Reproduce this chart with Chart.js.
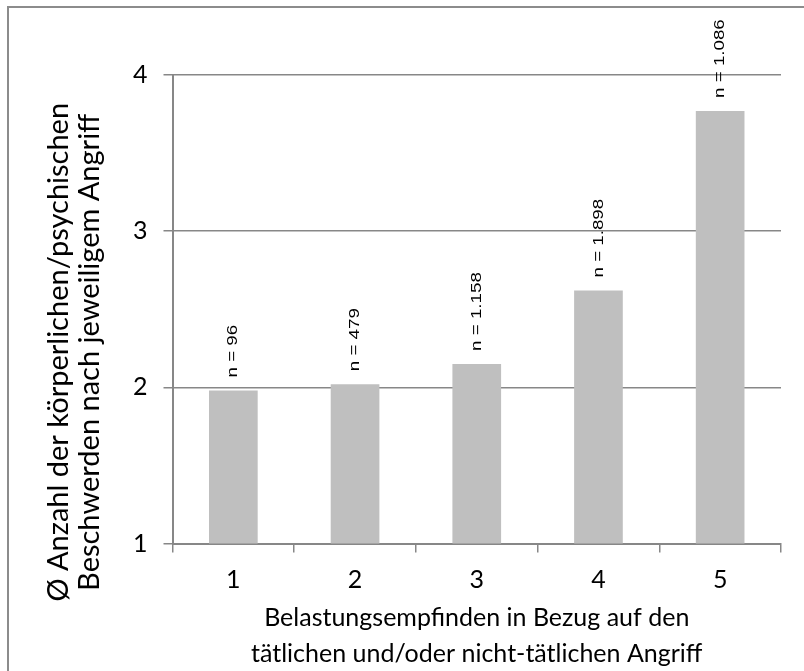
<!DOCTYPE html>
<html>
<head>
<meta charset="utf-8">
<script src="https://cdn.jsdelivr.net/npm/chart.js@4"></script>
<style>
  html, body { margin: 0; padding: 0; background: #fff; overflow: hidden; }
  #wrap { position: relative; width: 804px; height: 671px; }
  #frame { position: absolute; left: 7px; top: 6px; right: -10px; bottom: -10px; border: 2px solid #8c8c8c; }
  canvas { position: absolute; left: 0; top: 0; }
</style>
</head>
<body>
<div id="wrap">
  <div id="frame"></div>
  <canvas id="chart" width="804" height="671"></canvas>
</div>
<script>
const categories = ['1', '2', '3', '4', '5'];
const means      = [1.98, 2.02, 2.15, 2.62, 3.77];
const counts     = ['96', '479', '1.158', '1.898', '1.086'];
const yTicks     = [1, 2, 3, 4];
const yTitle = ['Ø Anzahl der körperlichen/psychischen', 'Beschwerden nach jeweiligem Angriff'];
const xTitle = ['Belastungsempfinden in Bezug auf den', 'tätlichen und/oder nicht-tätlichen Angriff'];

const GRID = '#878787';

/* n = ... labels above the bars, rotated */
const countLabels = {
  id: 'countLabels',
  afterDatasetsDraw(chart) {
    const ctx = chart.ctx;
    const meta = chart.getDatasetMeta(0);
    ctx.save();
    ctx.fillStyle = '#000';
    ctx.font = '15px "Liberation Sans"';
    ctx.textAlign = 'left';
    ctx.textBaseline = 'middle';
    meta.data.forEach((bar, i) => {
      ctx.save();
      ctx.translate(bar.x, bar.y - 13);
      ctx.rotate(-Math.PI / 2);
      ctx.scale(1.25, 1);
      ctx.fillText('n = ' + counts[i], 0, 0);
      ctx.restore();
    });
    ctx.restore();
  }
};

/* y axis title, two rotated lines */
const yAxisTitle = {
  id: 'yAxisTitle',
  afterDraw(chart) {
    const ctx = chart.ctx;
    const a = chart.chartArea;
    const cy = (a.top + a.bottom) / 2 + 43;
    ctx.save();
    ctx.fillStyle = '#000';
    ctx.font = '29px Lato';
    ctx.textAlign = 'center';
    ctx.textBaseline = 'middle';
    [a.left - 114, a.left - 83].forEach((x, i) => {
      ctx.save();
      ctx.translate(x, cy);
      ctx.rotate(-Math.PI / 2);
      ctx.fillText(yTitle[i], 0, 0);
      ctx.restore();
    });
    ctx.restore();
  }
};

new Chart(document.getElementById('chart'), {
  type: 'bar',
  data: {
    labels: categories,
    datasets: [{
      data: means,
      backgroundColor: '#bfbfbf',
      barPercentage: 0.4,
      categoryPercentage: 1.0,
    }]
  },
  options: {
    responsive: false,
    animation: false,
    layout: { padding: { left: 117, right: 23, top: 75, bottom: 0 } },
    plugins: { legend: { display: false }, tooltip: { enabled: false } },
    scales: {
      x: {
        grid: { offset: true, drawOnChartArea: false, color: GRID, lineWidth: 1.5, tickLength: 9 },
        border: { color: GRID, width: 2 },
        ticks: { color: '#000', padding: 12, font: { family: 'Lato', size: 25 } },
        title: {
          display: true, text: xTitle, color: '#000',
          font: { family: 'Lato', size: 25, lineHeight: 1.45 },
          padding: { top: -7, bottom: -1 }
        }
      },
      y: {
        min: 1, max: 4,
        afterBuildTicks: s => { s.ticks = yTicks.map(v => ({ value: v })); },
        grid: { color: GRID, lineWidth: 1.5, tickLength: 9 },
        border: { color: GRID, width: 2 },
        ticks: { color: '#000', padding: 16, font: { family: 'Lato', size: 25 } }
      }
    }
  },
  plugins: [countLabels, yAxisTitle]
});
</script>
</body>
</html>
